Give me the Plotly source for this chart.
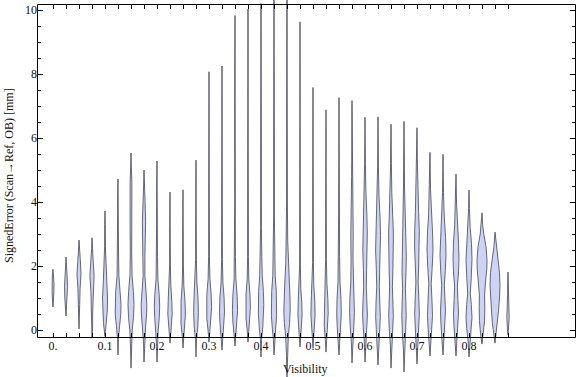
import plotly.graph_objects as go

# ---------------- data ----------------
visibility = [0.0, 0.025, 0.05, 0.075, 0.1, 0.125, 0.15, 0.175, 0.2, 0.225,
              0.25, 0.275, 0.3, 0.325, 0.35, 0.375, 0.4, 0.425, 0.45, 0.475,
              0.5, 0.525, 0.55, 0.575, 0.6, 0.625, 0.65, 0.675, 0.7, 0.725,
              0.75, 0.775, 0.8, 0.825, 0.85, 0.875]

# per violin: (signed error [mm], relative density) knots from min to max
density_knots = [
    [(0.72, 0), (0.9, 0.5), (1.2, 0.9), (1.45, 1.0), (1.7, 0.7), (1.9, 0)],
    [(0.44, 0), (0.7, 0.5), (1.0, 1.2), (1.35, 1.5), (1.7, 1.1), (2.0, 0.4), (2.28, 0)],
    [(0.03, 0), (0.3, 0.5), (0.8, 0.7), (1.3, 1.1), (1.75, 2.0), (2.2, 1.3), (2.5, 0.5), (2.81, 0)],
    [(-0.22, 0), (0.1, 0.6), (0.6, 0.7), (1.2, 1.1), (1.7, 2.1), (2.2, 1.1), (2.55, 0.4), (2.88, 0)],
    [(-0.2, 0), (0.2, 1.5), (0.6, 2.3), (1.0, 2.5), (1.4, 1.8), (1.9, 0.9), (2.6, 0.4), (3.3, 0.3), (3.72, 0)],
    [(-0.78, 0), (-0.3, 0.4), (0.1, 1.5), (0.5, 2.8), (0.8, 3.0), (1.2, 2.3), (1.7, 0.9), (2.5, 0.5), (3.5, 0.4), (4.3, 0.3), (4.72, 0)],
    [(-1.19, 0), (-0.6, 0.4), (0.0, 1.2), (0.4, 2.5), (0.8, 3.0), (1.2, 2.4), (1.7, 1.1), (2.4, 0.7), (3.2, 0.9), (3.9, 1.2), (4.6, 0.9), (5.1, 0.3), (5.53, 0)],
    [(-1.0, 0), (-0.4, 0.5), (0.1, 1.6), (0.5, 2.6), (0.8, 2.8), (1.2, 2.0), (1.7, 0.9), (2.3, 0.9), (2.9, 1.4), (3.4, 1.6), (3.9, 1.2), (4.5, 0.4), (5.0, 0)],
    [(-1.0, 0), (-0.5, 0.4), (0.0, 1.2), (0.4, 2.3), (0.75, 2.7), (1.1, 2.2), (1.6, 0.9), (2.3, 0.5), (3.3, 0.4), (4.5, 0.3), (5.28, 0)],
    [(-0.41, 0), (-0.1, 0.7), (0.2, 1.8), (0.5, 2.2), (0.9, 1.8), (1.4, 0.8), (2.0, 0.4), (3.2, 0.3), (4.31, 0)],
    [(-0.56, 0), (-0.2, 0.7), (0.2, 2.0), (0.5, 2.4), (0.9, 2.0), (1.4, 0.8), (2.0, 0.4), (3.2, 0.3), (4.38, 0)],
    [(-0.84, 0), (-0.3, 0.5), (0.1, 1.8), (0.55, 2.4), (1.0, 2.0), (1.5, 0.9), (2.2, 0.4), (3.5, 0.3), (5.31, 0)],
    [(-0.38, 0), (0.0, 1.0), (0.35, 2.2), (0.7, 2.6), (1.1, 2.2), (1.6, 0.9), (2.3, 0.4), (4.0, 0.3), (6.5, 0.3), (8.07, 0)],
    [(-0.63, 0), (-0.2, 0.7), (0.2, 2.0), (0.55, 2.5), (1.0, 2.1), (1.5, 0.9), (2.2, 0.4), (4.0, 0.3), (6.5, 0.3), (8.25, 0)],
    [(-0.5, 0), (-0.1, 0.8), (0.25, 2.1), (0.62, 2.6), (1.05, 2.2), (1.6, 0.9), (2.3, 0.4), (4.0, 0.3), (7.0, 0.3), (9.83, 0)],
    [(-0.38, 0), (0.0, 0.8), (0.35, 2.0), (0.7, 2.4), (1.1, 2.0), (1.6, 0.8), (2.3, 0.4), (5.0, 0.3), (8.0, 0.3), (10.03, 0)],
    [(-0.84, 0), (-0.3, 0.6), (0.1, 1.8), (0.5, 2.6), (0.8, 2.8), (1.2, 2.4), (1.7, 1.3), (2.3, 0.8), (3.2, 0.4), (6.0, 0.3), (10.2, 0)],
    [(-0.78, 0), (-0.3, 0.6), (0.1, 1.8), (0.45, 2.6), (0.8, 2.8), (1.2, 2.3), (1.7, 1.2), (2.4, 0.7), (3.5, 0.4), (6.5, 0.3), (10.4, 0)],
    [(-1.47, 0), (-0.8, 0.5), (-0.2, 1.3), (0.2, 2.6), (0.6, 3.2), (1.0, 3.0), (1.5, 2.2), (2.1, 1.2), (2.8, 0.7), (4.0, 0.4), (7.0, 0.3), (10.5, 0)],
    [(-0.53, 0), (-0.2, 0.7), (0.15, 1.7), (0.47, 2.1), (0.85, 1.8), (1.3, 0.8), (2.0, 0.4), (4.0, 0.3), (7.0, 0.3), (9.63, 0)],
    [(-0.56, 0), (-0.2, 0.7), (0.15, 1.7), (0.47, 2.1), (0.9, 1.8), (1.4, 0.8), (2.1, 0.4), (4.0, 0.3), (7.58, 0)],
    [(-0.69, 0), (-0.3, 0.7), (0.15, 1.8), (0.53, 2.2), (0.95, 1.9), (1.45, 0.9), (2.2, 0.4), (4.0, 0.3), (6.88, 0)],
    [(-0.78, 0), (-0.3, 0.7), (0.1, 1.8), (0.5, 2.3), (0.95, 2.0), (1.5, 1.0), (2.3, 0.6), (3.5, 0.4), (7.26, 0)],
    [(-1.03, 0), (-0.4, 0.6), (0.1, 1.8), (0.55, 2.4), (1.0, 2.1), (1.5, 1.2), (2.2, 1.0), (3.0, 1.2), (3.8, 1.0), (4.8, 0.4), (7.17, 0)],
    [(-1.0, 0), (-0.4, 0.6), (0.1, 1.8), (0.47, 2.4), (0.9, 2.0), (1.35, 1.3), (1.9, 1.6), (2.5, 2.2), (3.0, 2.3), (3.6, 1.9), (4.3, 0.9), (5.2, 0.4), (6.65, 0)],
    [(-1.09, 0), (-0.5, 0.6), (0.0, 1.7), (0.4, 2.3), (0.85, 2.0), (1.35, 1.3), (1.9, 1.7), (2.5, 2.4), (2.95, 2.5), (3.5, 2.1), (4.2, 1.0), (5.1, 0.4), (6.66, 0)],
    [(-1.19, 0), (-0.5, 0.6), (0.0, 1.7), (0.45, 2.3), (0.9, 2.0), (1.35, 1.4), (1.9, 1.9), (2.5, 2.5), (3.0, 2.4), (3.6, 1.7), (4.3, 0.8), (5.2, 0.4), (6.43, 0)],
    [(-1.31, 0), (-0.6, 0.6), (-0.1, 1.6), (0.45, 2.2), (0.9, 1.8), (1.3, 1.4), (1.8, 2.0), (2.3, 2.3), (2.9, 1.8), (3.6, 1.0), (4.5, 0.5), (5.5, 0.3), (6.52, 0)],
    [(-1.06, 0), (-0.5, 0.6), (0.0, 1.6), (0.5, 2.3), (1.0, 1.8), (1.5, 1.1), (2.0, 1.7), (2.6, 2.4), (3.1, 2.3), (3.7, 1.6), (4.5, 0.8), (5.4, 0.3), (6.32, 0)],
    [(-0.81, 0), (-0.3, 0.9), (0.1, 2.0), (0.45, 2.5), (0.9, 2.0), (1.45, 1.2), (1.95, 2.2), (2.5, 3.0), (3.0, 2.6), (3.6, 1.4), (4.4, 0.5), (5.55, 0)],
    [(-0.78, 0), (-0.3, 0.9), (0.2, 2.1), (0.6, 2.5), (1.0, 1.9), (1.4, 1.3), (1.85, 2.3), (2.35, 3.0), (2.9, 2.6), (3.5, 1.3), (4.3, 0.5), (5.49, 0)],
    [(-0.81, 0), (-0.3, 0.9), (0.15, 2.1), (0.53, 2.5), (0.95, 1.9), (1.35, 1.4), (1.75, 2.4), (2.2, 3.0), (2.75, 2.5), (3.3, 1.3), (4.0, 0.5), (4.87, 0)],
    [(-0.84, 0), (-0.35, 0.9), (0.05, 2.3), (0.4, 3.0), (0.8, 2.3), (1.15, 1.3), (1.6, 2.2), (2.2, 3.0), (2.7, 2.5), (3.2, 1.2), (3.8, 0.4), (4.37, 0)],
    [(-0.44, 0), (-0.1, 1.5), (0.3, 2.6), (0.7, 2.8), (1.1, 2.6), (1.5, 3.5), (1.9, 4.8), (2.2, 5.0), (2.6, 4.0), (3.0, 1.8), (3.3, 0.6), (3.66, 0)],
    [(-0.41, 0), (-0.1, 1.2), (0.2, 2.6), (0.6, 3.5), (1.0, 4.5), (1.4, 5.0), (1.8, 4.5), (2.2, 3.0), (2.6, 1.1), (3.06, 0)],
    [(-0.15, 0), (0.1, 0.7), (0.4, 1.2), (0.7, 0.9), (1.1, 0.4), (1.5, 0.3), (1.81, 0)],
]

x_label_values = [0.0, 0.1, 0.2, 0.3, 0.4, 0.5, 0.6, 0.7, 0.8]
x_label_text = ["0.", "0.1", "0.2", "0.3", "0.4", "0.5", "0.6", "0.7", "0.8"]
y_major_values = [0, 2, 4, 6, 8, 10]
y_major_text = ["0", "2", "4", "6", "8", "10"]
y_minor_values = [0.5, 1, 1.5, 2.5, 3, 3.5, 4.5, 5, 5.5, 6.5, 7, 7.5, 8.5, 9, 9.5]

x_title = "Visibility"
y_title = "SignedError (Scan\u2192Ref, OB) [mm]"

# ---------------- layout geometry / style ----------------
W, H = 576, 377
X_RANGE = [-23 / 520, 523 / 520]
Y_RANGE = [-47 / 32, 330 / 32]
WIDTH_UNIT = 1 / 520.0          # one density unit = 1 px of half-width
FILL = "rgb(204,211,246)"
EDGE = "rgba(70,70,82,0.8)"
FONT = dict(family="Liberation Serif, Times New Roman, serif", size=12, color="#111")

fig = go.Figure()

for pos, knots in zip(visibility, density_knots):
    ys = [k[0] for k in knots]
    ws = [k[1] for k in knots]
    xs_right = [pos + w * WIDTH_UNIT for w in ws]
    xs_left = [pos - w * WIDTH_UNIT for w in ws[::-1]]
    fig.add_trace(go.Scatter(
        x=xs_right + xs_left,
        y=ys + ys[::-1],
        mode="lines",
        fill="toself",
        fillcolor=FILL,
        line=dict(color=EDGE, width=1, shape="linear"),
        hoverinfo="skip",
        showlegend=False,
    ))

# empty trace to create the mirrored (top/right) tick axes
fig.add_trace(go.Scatter(x=[], y=[], xaxis="x2", yaxis="y2", showlegend=False))

label_map = {round(v, 3): t for v, t in zip(x_label_values, x_label_text)}
bottom_text = [label_map.get(round(v, 3), "") for v in visibility]

tick_common = dict(showgrid=False, zeroline=False, showline=False,
                   ticks="inside", tickcolor="black", tickwidth=1)

fig.update_layout(
    width=W, height=H, autosize=False,
    margin=dict(l=0, r=0, t=0, b=0, pad=0),
    paper_bgcolor="white", plot_bgcolor="white",
    font=FONT,
    xaxis=dict(domain=[30 / W, 1], range=X_RANGE, anchor="free", position=40 / H,
               tickvals=visibility, ticktext=bottom_text, ticklen=4,
               tickfont=FONT, automargin=False, **tick_common),
    xaxis2=dict(domain=[30 / W, 1], range=X_RANGE, overlaying="x", side="top",
                anchor="free", position=373 / H, tickvals=visibility, ticklen=4,
                showticklabels=False, automargin=False, **tick_common),
    yaxis=dict(domain=[0, 1], range=Y_RANGE, anchor="free", position=37 / W,
               tickvals=y_major_values, ticktext=y_major_text, ticklen=5,
               minor=dict(tickvals=y_minor_values, ticklen=3, ticks="inside",
                          tickcolor="black", showgrid=False),
               tickfont=FONT, automargin=False, **tick_common),
    yaxis2=dict(domain=[0, 1], range=Y_RANGE, overlaying="y", side="right",
                anchor="free", position=575 / W, tickvals=y_major_values, ticklen=5,
                minor=dict(tickvals=y_minor_values, ticklen=3, ticks="inside",
                           tickcolor="black", showgrid=False),
                showticklabels=False, automargin=False, **tick_common),
    shapes=[dict(type="rect", xref="paper", yref="paper",
                 x0=37.5 / W, x1=575.5 / W, y0=(H - 337.5) / H, y1=(H - 4.5) / H,
                 line=dict(color="black", width=1), fillcolor="rgba(0,0,0,0)",
                 layer="above")],
    annotations=[
        dict(text=x_title, xref="paper", yref="paper", x=305 / W, y=(H - 369) / H,
             showarrow=False, xanchor="center", yanchor="middle", font=FONT),
        dict(text=y_title, xref="paper", yref="paper", x=9 / W, y=(H - 176) / H,
             showarrow=False, xanchor="center", yanchor="middle", textangle=-90,
             font=FONT),
    ],
)

# the page body has a default 8px margin; remove it so the figure fills the window
fig.write_html("out.html",
               config={"displayModeBar": False},
               post_script="document.body.style.margin='0';document.body.style.overflow='hidden';")
